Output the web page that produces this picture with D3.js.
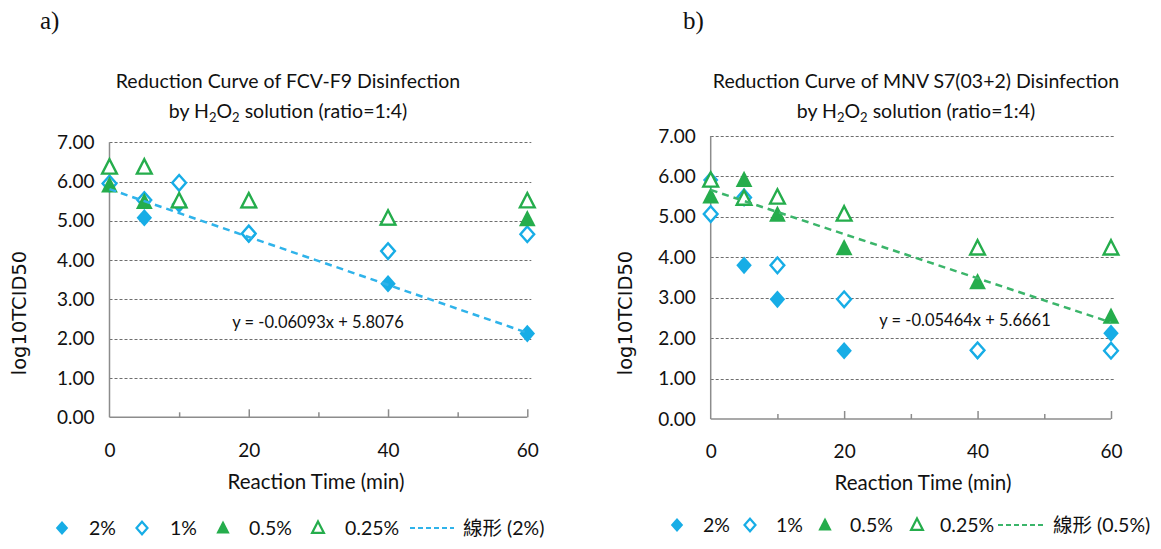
<!DOCTYPE html>
<html>
<head>
<meta charset="utf-8">
<script src="https://cdn.jsdelivr.net/npm/d3@7"></script>
<style>
  html, body { margin: 0; padding: 0; background: #fff; }
  svg { display: block; }
  .tick text { font-family: Lato, sans-serif; font-size: 19px; fill: #111; }
</style>
</head>
<body>
<svg id="chart" width="1161" height="549"></svg>
<script>
// reaction times (min)
const times = [0, 5, 10, 20, 40, 60];
const seriesNames = ['2%', '1%', '0.5%', '0.25%'];

// a) FCV-F9, log10TCID50
const fcv2 = [5.95, 5.08, 5.42, 4.65, 3.40, 2.13];
const fcv1 = [5.95, 5.53, 5.97, 4.68, 4.23, 4.66];
const fcv05 = [5.90, 5.48, 5.50, 5.50, 5.06, 5.04];
const fcv025 = [6.36, 6.36, 5.50, 5.50, 5.06, 5.50];

// b) MNV S7(03+2), log10TCID50
const mnv2 = [5.91, 3.80, 2.96, 1.69, 1.69, 2.12];
const mnv1 = [5.07, 5.48, 3.80, 2.96, 1.70, 1.69];
const mnv05 = [5.50, 5.91, 5.05, 4.22, 3.38, 2.53];
const mnv025 = [5.90, 5.45, 5.48, 5.06, 4.22, 4.22];

// linear trendlines [slope, intercept]
const fcvFit = [-0.06093, 5.8076];
const mnvFit = [-0.05464, 5.6661];

const yTicks = [0, 1, 2, 3, 4, 5, 6, 7];
const xMajor = [0, 20, 40, 60];
const xMinor = [10, 30, 50];

const BLUE = '#17ade6';
const GREEN = '#25ad4c';
const BLUE_LINE = '#2fb3ea';
const GREEN_LINE = '#3bb56a';

const svg = d3.select('#chart');

// marker shapes
function diamond(s) {
  return `M0,${-s}L${s * 0.88},0L0,${s}L${-s * 0.88},0Z`;
}
function triangle(s) {
  return `M0,${-s}L${s * 0.9},${s * 0.75}L${-s * 0.9},${s * 0.75}Z`;
}
const markerStyles = [
  {shape: diamond, size: 8.8, fill: BLUE, stroke: 'none'},
  {shape: diamond, size: 7.8, fill: '#fff', stroke: BLUE},
  {shape: triangle, size: 9.3, fill: GREEN, stroke: 'none'},
  {shape: triangle, size: 8.2, fill: '#fff', stroke: GREEN}
];

function drawPanel(p) {
  const g = svg.append('g');
  const x = d3.scaleLinear().domain([0, 60]).range(p.xRange);
  const y = d3.scaleLinear().domain([0, 7]).range(p.yRange);

  // panel letter
  g.append('text')
    .attr('x', p.letterX).attr('y', 29)
    .attr('font-family', '"Liberation Serif", serif')
    .attr('font-size', 25).attr('fill', '#111')
    .text(p.letter);

  // title
  const title = g.append('text')
    .attr('text-anchor', 'middle')
    .attr('font-family', 'Lato, sans-serif')
    .attr('font-size', 19.5).attr('fill', '#111');
  title.append('tspan').attr('x', p.titleX).attr('y', 88).text(p.title);
  const t2 = title.append('tspan').attr('x', p.titleX).attr('y', 118);
  t2.append('tspan').text('by H');
  t2.append('tspan').attr('font-size', 13).attr('dy', 4).text('2');
  t2.append('tspan').attr('dy', -4).text('O');
  t2.append('tspan').attr('font-size', 13).attr('dy', 4).text('2');
  t2.append('tspan').attr('dy', -4).text(' solution (ratio=1:4)');

  // gridlines
  g.append('g')
    .selectAll('line')
    .data(yTicks.filter(d => d > 0))
    .join('line')
    .attr('x1', x(0)).attr('x2', x(60) + 4)
    .attr('y1', d => Math.round(y(d)) + 0.5).attr('y2', d => Math.round(y(d)) + 0.5)
    .attr('stroke', '#6e6e6e').attr('stroke-width', 1)
    .attr('stroke-dasharray', '3,2');

  // y axis labels
  const ya = g.append('g')
    .attr('transform', `translate(${x(0)},0)`)
    .call(d3.axisLeft(y).tickValues(yTicks).tickSize(0).tickPadding(15).tickFormat(d3.format('.2f')));
  ya.select('.domain').remove();

  // axis lines
  g.append('line')
    .attr('x1', x(0)).attr('x2', x(0))
    .attr('y1', y(7)).attr('y2', y(0))
    .attr('stroke', '#8c8c8c').attr('stroke-width', 1.5);
  g.append('line')
    .attr('x1', x(0)).attr('x2', x(60))
    .attr('y1', y(0)).attr('y2', y(0))
    .attr('stroke', '#8c8c8c').attr('stroke-width', 1.5);

  // x ticks (inside), minor and major
  const xa = g.append('g').attr('transform', `translate(0,${y(0)})`);
  xa.append('g')
    .call(d3.axisBottom(x).tickValues(xMinor).tickSize(-5).tickFormat(''))
    .call(s => s.select('.domain').remove())
    .selectAll('line').attr('stroke', '#8c8c8c').attr('stroke-width', 1.5);
  xa.append('g')
    .call(d3.axisBottom(x).tickValues(xMajor.filter(d => d > 0)).tickSize(-8).tickFormat(''))
    .call(s => s.select('.domain').remove())
    .selectAll('line').attr('stroke', '#8c8c8c').attr('stroke-width', 1.5);
  xa.append('g')
    .call(d3.axisBottom(x).tickValues(xMajor).tickSize(0).tickPadding(p.xPad))
    .call(s => s.select('.domain').remove());

  // axis titles
  g.append('text')
    .attr('x', p.xTitleX).attr('y', p.xTitleY)
    .attr('text-anchor', 'middle')
    .attr('font-family', 'Lato, sans-serif').attr('font-size', 20.5).attr('fill', '#111')
    .text('Reaction Time (min)');
  g.append('text')
    .attr('transform', `translate(${p.yTitleX},313) rotate(-90)`)
    .attr('text-anchor', 'middle').attr('dy', '0.35em')
    .attr('font-family', '"DejaVu Sans", sans-serif').attr('font-size', 19.5).attr('fill', '#111')
    .text('log10TCID50');

  // markers
  p.series.forEach((vals, i) => {
    const m = markerStyles[i];
    g.append('g')
      .selectAll('path')
      .data(times.map((t, k) => [t, vals[k]]))
      .join('path')
      .attr('transform', d => `translate(${x(d[0])},${y(d[1])})`)
      .attr('d', m.shape(m.size))
      .attr('fill', m.fill)
      .attr('stroke', m.stroke)
      .attr('stroke-width', 2.4);
  });

  // trendline
  const fit = p.fit;
  g.append('path')
    .datum([0, 60])
    .attr('d', d3.line().x(d => x(d)).y(d => y(fit[0] * d + fit[1])))
    .attr('fill', 'none')
    .attr('stroke', p.fitColor)
    .attr('stroke-width', 2.5)
    .attr('stroke-dasharray', '7,5');

  // equation label
  g.append('text')
    .attr('x', p.eqX).attr('y', p.eqY)
    .attr('text-anchor', 'middle')
    .attr('font-family', 'Lato, sans-serif').attr('font-size', 16.5).attr('fill', '#111')
    .text(`y = ${fit[0]}x + ${fit[1]}`);

  // legend
  const lg = g.append('g').attr('transform', `translate(0,${p.legendY})`);
  seriesNames.forEach((name, i) => {
    const m = markerStyles[i];
    lg.append('path')
      .attr('transform', `translate(${p.legendX[i][0]},0)`)
      .attr('d', m.shape(m.size * 0.8))
      .attr('fill', m.fill).attr('stroke', m.stroke).attr('stroke-width', 2.2);
    lg.append('text')
      .attr('x', p.legendX[i][1]).attr('dy', '0.35em')
      .attr('font-family', 'Lato, sans-serif').attr('font-size', 19.5).attr('fill', '#111')
      .text(name);
  });
  lg.append('line')
    .attr('x1', p.legendLine[0]).attr('x2', p.legendLine[1])
    .attr('stroke', p.fitColor).attr('stroke-width', 2)
    .attr('stroke-dasharray', '5,3');
  lg.append('text')
    .attr('x', p.legendLine[2]).attr('dy', '0.35em')
    .attr('font-family', 'Lato, "Noto Sans CJK TC", sans-serif').attr('font-size', 19.5).attr('fill', '#111')
    .text(`線形 (${p.fitName})`);
}

drawPanel({
  letter: 'a)', letterX: 40,
  title: 'Reduction Curve of FCV-F9 Disinfection', titleX: 288,
  xRange: [109.5, 527.3], yRange: [417.3, 142.3], xPad: 26,
  xTitleX: 316, xTitleY: 489, yTitleX: 19,
  series: [fcv2, fcv1, fcv05, fcv025],
  fit: fcvFit, fitColor: BLUE_LINE, fitName: '2%',
  eqX: 318, eqY: 328,
  legendY: 528,
  legendX: [[62, 89], [142, 170], [223, 249], [318, 345]],
  legendLine: [410, 454, 463]
});

drawPanel({
  letter: 'b)', letterX: 683,
  title: 'Reduction Curve of MNV S7(03+2) Disinfection', titleX: 916,
  xRange: [710.7, 1111], yRange: [419, 136], xPad: 25.5,
  xTitleX: 923, xTitleY: 490, yTitleX: 625,
  series: [mnv2, mnv1, mnv05, mnv025],
  fit: mnvFit, fitColor: GREEN_LINE, fitName: '0.5%',
  eqX: 965, eqY: 326,
  legendY: 525,
  legendX: [[677, 703], [750, 776], [825, 850], [917, 940]],
  legendLine: [998, 1044, 1053]
});
</script>
</body>
</html>
